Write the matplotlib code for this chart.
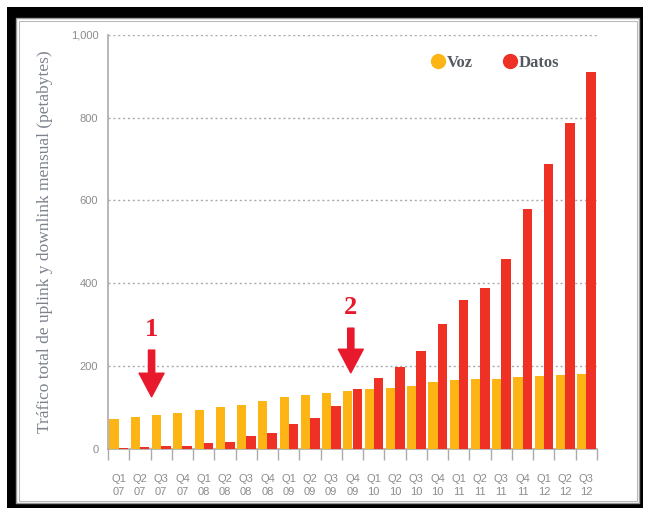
import numpy as np
import matplotlib.pyplot as plt
from matplotlib.patches import Rectangle, FancyArrowPatch
from matplotlib.lines import Line2D
from matplotlib.ticker import FuncFormatter

# trimestres Q1 07 .. Q3 12
quarters = ['Q1', 'Q2', 'Q3', 'Q4'] * 5 + ['Q1', 'Q2', 'Q3']
years = ['07'] * 4 + ['08'] * 4 + ['09'] * 4 + ['10'] * 4 + ['11'] * 4 + ['12'] * 3
voz = [71, 75, 80, 85, 94, 100, 104, 115, 125, 130, 135, 140,
       143, 147, 152, 161, 165, 168, 169, 173, 175, 177, 179]
datos = [2, 3, 5, 7, 13, 16, 30, 38, 60, 74, 103, 143,
         171, 196, 237, 301, 359, 389, 459, 578, 688, 788, 911]

# flechas: (etiqueta, x, y_texto, y_cola, y_punta)
flechas = [('1', 1.55, 287, 238, 125),
           ('2', 10.92, 340, 291, 183)]

c_voz = '#FDB515'
c_datos = '#EE3124'
c_flecha = '#E8192C'
gris = '#8c8c8c'

W, H = 646, 511
fig = plt.figure(figsize=(W / 100, H / 100), dpi=100)


def px(x, y):
    return x / W, 1 - y / H


# marco negro con panel blanco
x0, y0 = px(7, 508)
fig.add_artist(Rectangle((x0, y0), 636 / W, 501 / H, transform=fig.transFigure,
                         facecolor='black', edgecolor='none', zorder=0))
x0, y0 = px(16, 503)
fig.add_artist(Rectangle((x0, y0), 623 / W, 485 / H, transform=fig.transFigure,
                         facecolor='white', edgecolor='#999999', lw=1, zorder=0))
x0, y0 = px(19, 501)
fig.add_artist(Rectangle((x0, y0), 618 / W, 480 / H, transform=fig.transFigure,
                         facecolor='none', edgecolor='#bbbbbb', lw=0.8, zorder=0))

ax = fig.add_axes([108 / W, 1 - 448.5 / H, 489 / W, 413.5 / H])
ax.patch.set_alpha(0)

x = np.arange(len(voz))
ax.bar(x - 0.215, voz, width=0.43, color=c_voz, zorder=3)
ax.bar(x + 0.225, datos, width=0.45, color=c_datos, zorder=3)

ax.set_xlim(-0.5, len(voz) - 0.5)
ax.set_ylim(0, 1000)

ax.set_yticks(range(0, 1001, 200))
ax.yaxis.set_major_formatter(FuncFormatter(lambda v, p: f'{int(v):,}'))
ax.tick_params(axis='y', length=0, pad=7, labelsize=8, labelcolor=gris,
               labelfontfamily='Liberation Sans')
for v in range(200, 1001, 200):
    ax.axhline(v, color='#aaaaaa', lw=1, ls=(0, (1.5, 2)), zorder=1)

ax.set_xticks(x)
ax.set_xticklabels([f'{q}\n{a}' for q, a in zip(quarters, years)],
                   fontsize=8, color=gris, family='Liberation Sans', linespacing=1.45)
ax.set_xticks(np.arange(-0.5, len(voz)), minor=True)
ax.tick_params(axis='x', which='major', length=0, pad=18)
ax.tick_params(axis='x', which='minor', length=8, width=1, color='#aaaaaa')

for s in ['top', 'right']:
    ax.spines[s].set_visible(False)
for s in ['left', 'bottom']:
    ax.spines[s].set_color('#aaaaaa')
    ax.spines[s].set_linewidth(1.2)

ax.set_ylabel('Tráfico total de uplink y downlink mensual (petabytes)',
              family='Liberation Serif', fontsize=12.5, color='#7d828c', labelpad=13)

handles = [Line2D([], [], ls='none', marker='o', markersize=10, color=c_voz),
           Line2D([], [], ls='none', marker='o', markersize=10, color=c_datos)]
leg = ax.legend(handles, ['Voz', 'Datos'], ncol=2, frameon=False,
                loc='center', bbox_to_anchor=(0.79, 0.932),
                handletextpad=0.05, columnspacing=1.7, handlelength=1.0,
                prop={'family': 'Liberation Serif', 'weight': 'bold', 'size': 12})
for t in leg.get_texts():
    t.set_color('#555a60')

for etiqueta, fx, yt, ya, yb in flechas:
    ax.text(fx, yt, etiqueta, ha='center', va='center', color=c_flecha,
            family='Liberation Serif', weight='bold', fontsize=19, zorder=5)
    ax.add_patch(FancyArrowPatch((fx, ya), (fx, yb),
                                 arrowstyle='simple,head_length=17,head_width=18,tail_width=4.5',
                                 mutation_scale=1, shrinkA=0, shrinkB=0,
                                 color=c_flecha, zorder=5))

fig.savefig('out.png', dpi=100)
